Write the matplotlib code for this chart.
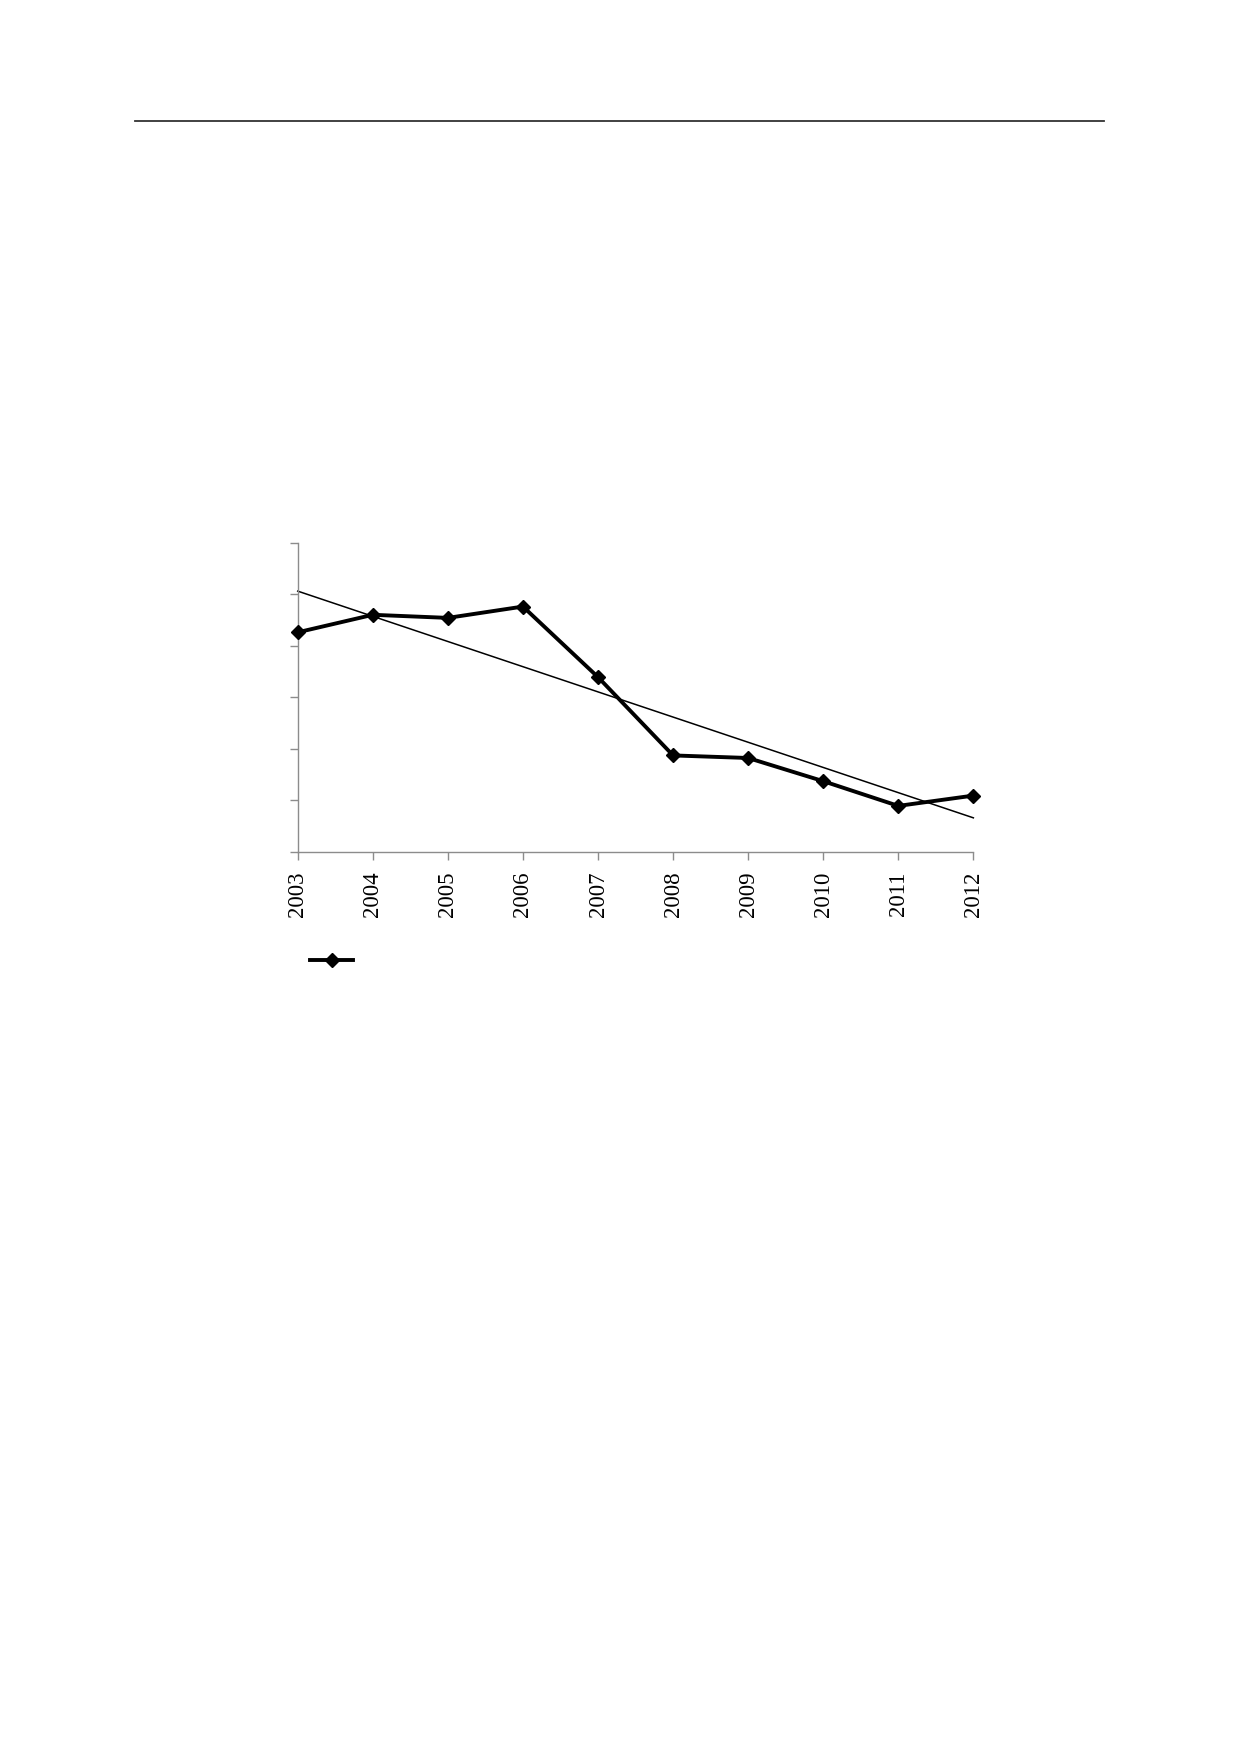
import matplotlib
matplotlib.use('Agg')
import matplotlib.pyplot as plt
import numpy as np
from matplotlib.lines import Line2D

years = [2003, 2004, 2005, 2006, 2007, 2008, 2009, 2010, 2011, 2012]
values = [4.26, 4.60, 4.54, 4.76, 3.39, 1.87, 1.82, 1.37, 0.89, 1.09]
y_ticks = [0, 1, 2, 3, 4, 5, 6]

plt.rcParams['font.family'] = 'serif'
plt.rcParams['font.serif'] = ['Liberation Serif', 'Times New Roman', 'DejaVu Serif']

fig = plt.figure(figsize=(12.39, 17.54), dpi=100)
ax = fig.add_axes([0.2403, 0.5144, 0.5453, 0.1762])

# linear trend from the data itself
coef = np.polyfit(years, values, 1)
trend = np.polyval(coef, years)

line, = ax.plot(years, values, '-D', color='black', lw=2.8, ms=7.5,
                clip_on=False, zorder=3)
ax.plot(years, trend, '-', color='black', lw=1.1, clip_on=False)

ax.set_xlim(2003, 2012)
ax.set_ylim(0, 6)
ax.set_xticks(years)
ax.set_xticklabels([str(y) for y in years], rotation=90, fontsize=16.5)
ax.set_yticks(y_ticks)
ax.set_yticklabels([])

for s in ['top', 'right']:
    ax.spines[s].set_visible(False)
for s in ['left', 'bottom']:
    ax.spines[s].set_color('#8c8c8c')
    ax.spines[s].set_linewidth(1.0)
ax.tick_params(axis='both', direction='out', length=6, width=1.0, color='#8c8c8c')
ax.tick_params(axis='x', pad=8)

ax.legend(handles=[line], labels=[''], loc='center left',
          bbox_to_anchor=(0.250, 0.4512), bbox_transform=fig.transFigure,
          frameon=False, handlelength=1.9, handletextpad=0, borderpad=0,
          borderaxespad=0, fontsize=16.5)

# rule at the top of the page
fig.add_artist(Line2D([135 / 1239, 1104 / 1239], [1 - 121 / 1754, 1 - 121 / 1754],
                      color='#333333', lw=1.3))

fig.savefig('out.png', dpi=100)
